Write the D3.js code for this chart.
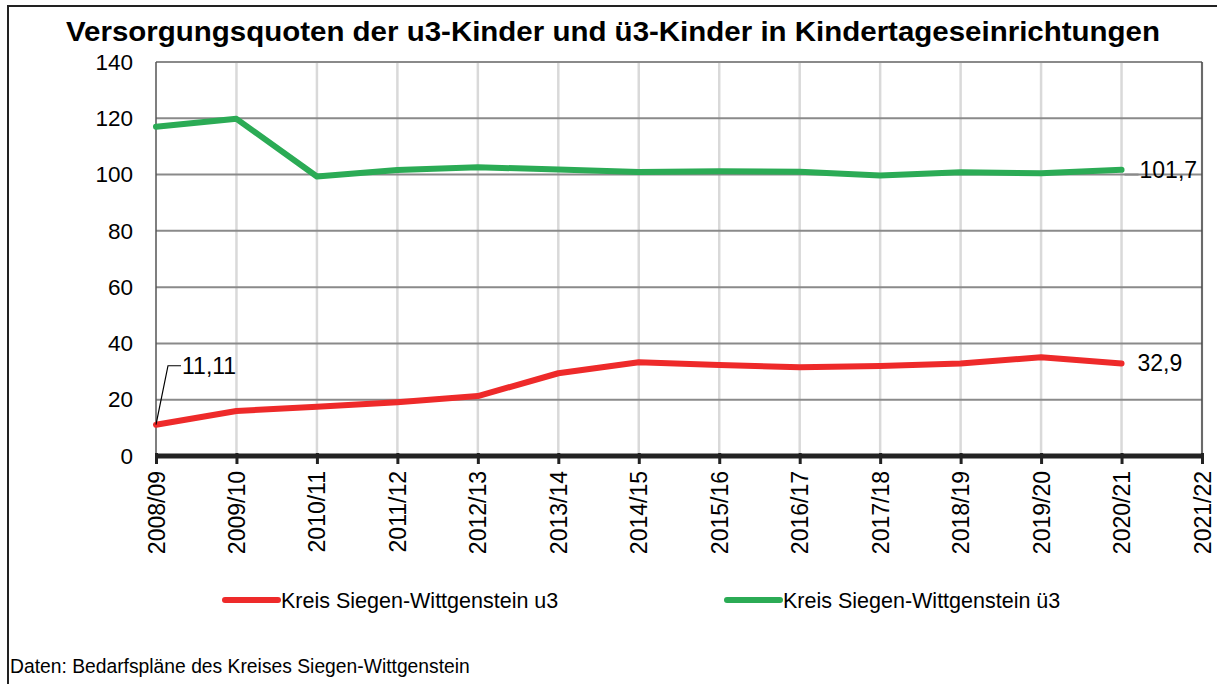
<!DOCTYPE html>
<html>
<head>
<meta charset="utf-8">
<script src="https://cdn.jsdelivr.net/npm/d3@7"></script>
<style>
  body { margin: 0; background: #fff; }
  text { font-family: "Liberation Sans", Arial, sans-serif; }
</style>
</head>
<body>
<div id="chart"></div>
<script>
var years = ["2008/09","2009/10","2010/11","2011/12","2012/13","2013/14","2014/15",
             "2015/16","2016/17","2017/18","2018/19","2019/20","2020/21","2021/22"];
var u3 = [11.11, 16.0, 17.5, 19.1, 21.3, 29.4, 33.3, 32.3, 31.5, 32.0, 32.9, 35.1, 32.9];
var ue3 = [117.0, 119.8, 99.3, 101.6, 102.6, 101.8, 100.9, 101.2, 101.0, 99.7, 100.8, 100.5, 101.7];
var yTicks = [0, 20, 40, 60, 80, 100, 120, 140];
var seriesNames = ["Kreis Siegen-Wittgenstein u3", "Kreis Siegen-Wittgenstein ü3"];
var seriesColors = ["#ee2a2a", "#2bab55"];

var W = 1217, H = 684;
var svg = d3.select("#chart").append("svg")
            .attr("width", W)
            .attr("height", H);

// outer frame (only top and left visible)
svg.append("path")
   .attr("d", "M8,684 L8,6 L1217,6")
   .attr("fill", "none")
   .attr("stroke", "#222")
   .attr("stroke-width", 2);

svg.append("text")
   .attr("x", 66)
   .attr("y", 41)
   .attr("font-size", 27)
   .attr("font-weight", "bold")
   .attr("textLength", 1094)
   .attr("lengthAdjust", "spacingAndGlyphs")
   .text("Versorgungsquoten der u3-Kinder und ü3-Kinder in Kindertageseinrichtungen");

var pLeft = 156, pRight = 1202, pTop = 62, pBottom = 456;

var x = d3.scalePoint()
          .domain(years)
          .range([pLeft, pRight]);

var y = d3.scaleLinear()
          .domain([0, 140])
          .range([pBottom, pTop]);

// vertical grid
svg.selectAll(".vgrid")
   .data(years.slice(1))
   .enter()
   .append("line")
   .attr("class", "vgrid")
   .attr("x1", function(d){ return x(d); })
   .attr("x2", function(d){ return x(d); })
   .attr("y1", pTop)
   .attr("y2", pBottom)
   .attr("stroke", "#d9d9d9")
   .attr("stroke-width", 2.5);

// horizontal grid
svg.selectAll(".hgrid")
   .data(yTicks.slice(1))
   .enter()
   .append("line")
   .attr("class", "hgrid")
   .attr("x1", pLeft)
   .attr("x2", pRight)
   .attr("y1", function(d){ return y(d); })
   .attr("y2", function(d){ return y(d); })
   .attr("stroke", "#8a8a8a")
   .attr("stroke-width", 2);

// plot border left/right
svg.append("line")
   .attr("x1", pLeft).attr("x2", pLeft)
   .attr("y1", pTop).attr("y2", pBottom)
   .attr("stroke", "#555").attr("stroke-width", 1.5);
svg.append("line")
   .attr("x1", pRight).attr("x2", pRight)
   .attr("y1", pTop).attr("y2", pBottom)
   .attr("stroke", "#444").attr("stroke-width", 1.5);

// y axis labels
var yAxis = d3.axisLeft(y)
              .tickValues(yTicks)
              .tickSize(0)
              .tickPadding(23);
var gy = svg.append("g")
            .attr("transform", "translate(" + pLeft + ",0)")
            .call(yAxis);
gy.select(".domain").remove();
gy.selectAll("text")
  .attr("font-size", 22.5)
  .attr("fill", "#000")
  .attr("font-family", "'Liberation Sans', Arial, sans-serif");

// x axis
var xAxis = d3.axisBottom(x)
              .tickSize(8)
              .tickPadding(8);
var gx = svg.append("g")
            .attr("transform", "translate(0," + pBottom + ")")
            .call(xAxis);
gx.select(".domain")
  .attr("stroke", "#222")
  .attr("stroke-width", 5)
  .attr("d", "M" + pLeft + ",0H" + pRight);
gx.selectAll(".tick line")
  .attr("stroke", "#222")
  .attr("stroke-width", 3)
  .attr("y1", -3);
gx.selectAll("text")
  .attr("font-size", 23)
  .attr("fill", "#000")
  .attr("font-family", "'Liberation Sans', Arial, sans-serif")
  .attr("text-anchor", "end")
  .attr("dy", "0.35em")
  .attr("transform", "rotate(-90)")
  .attr("x", -15)
  .attr("y", 0);

// lines
var line = d3.line()
             .x(function(d, i){ return x(years[i]); })
             .y(function(d){ return y(d); });

[u3, ue3].forEach(function(s, k){
    svg.append("path")
       .datum(s)
       .attr("d", line)
       .attr("fill", "none")
       .attr("stroke", seriesColors[k])
       .attr("stroke-width", 6)
       .attr("stroke-linejoin", "round")
       .attr("stroke-linecap", "round");
});

// data labels
var fx = x(years[0]), fy = y(u3[0]);
svg.append("path")
   .attr("d", "M" + fx + "," + fy + "L" + (fx + 12) + "," + (fy - 59) + "h13")
   .attr("fill", "none")
   .attr("stroke", "#000")
   .attr("stroke-width", 1.2);
svg.append("text")
   .attr("x", fx + 26)
   .attr("y", fy - 59 + 8)
   .attr("font-size", 23)
   .text("11,11");

var lastI = u3.length - 1;
svg.append("text")
   .attr("x", x(years[lastI]) + 16)
   .attr("y", y(u3[lastI]) + 8)
   .attr("font-size", 23)
   .text("32,9");

svg.append("line")
   .attr("x1", x(years[lastI]) + 3)
   .attr("x2", x(years[lastI]) + 17)
   .attr("y1", y(100))
   .attr("y2", y(100))
   .attr("stroke", "#8a8a8a")
   .attr("stroke-width", 2);
svg.append("text")
   .attr("x", x(years[lastI]) + 18)
   .attr("y", y(ue3[lastI]) + 8)
   .attr("font-size", 23)
   .text("101,7");

// legend
var legX = [225, 727];
seriesNames.forEach(function(name, k){
    svg.append("line")
       .attr("x1", legX[k]).attr("x2", legX[k] + 53)
       .attr("y1", 600).attr("y2", 600)
       .attr("stroke", seriesColors[k])
       .attr("stroke-width", 6)
       .attr("stroke-linecap", "round");
    svg.append("text")
       .attr("x", legX[k] + 56)
       .attr("y", 608)
       .attr("font-size", 21.5)
       .text(name);
});

svg.append("text")
   .attr("x", 10)
   .attr("y", 673)
   .attr("font-size", 19.3)
   .text("Daten: Bedarfspläne des Kreises Siegen-Wittgenstein");
</script>
</body>
</html>
